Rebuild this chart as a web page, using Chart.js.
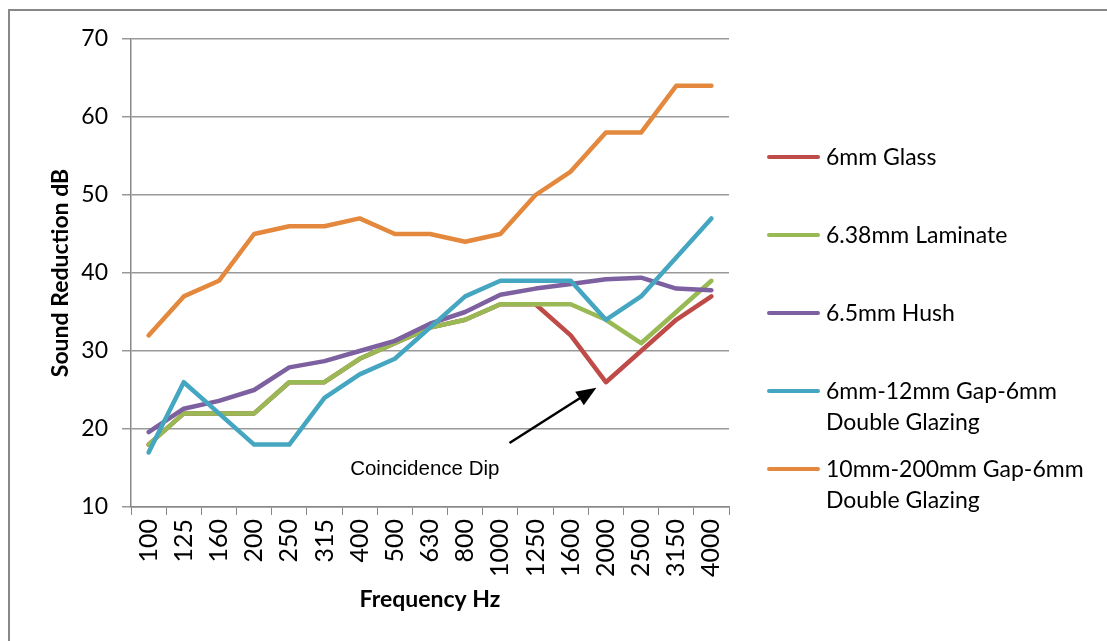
<!DOCTYPE html>
<html lang="en">
<head>
    <meta charset="UTF-8">
    <title>Sound Reduction</title>
    <style>
        body {
            margin: 0;
            background: #fff;
            font-family: Lato, sans-serif;
        }
        #frame {
            position: absolute;
            left: 8px;
            top: 9px;
            width: 1120px;
            height: 660px;
            border: 2px solid #888;
        }
        #chartBox {
            position: absolute;
            left: 0;
            top: 0;
        }
        .legend-item {
            position: absolute;
            left: 767px;
            display: flex;
            align-items: flex-start;
            font-size: 23px;
            line-height: 31px;
            color: #000;
        }
        .legend-swatch {
            width: 53px;
            height: 4px;
            border-radius: 2px;
            margin-top: 14px;
            margin-right: 6px;
            flex: none;
        }
    </style>
    <script src="https://cdn.jsdelivr.net/npm/chart.js"></script>
</head>
<body>

<div id="frame"></div>
<div id="chartBox"><canvas id="soundChart" width="1107" height="641"></canvas></div>
<div id="legend"></div>

<script>
    // frequency bands (Hz)
    const frequencies = ['100', '125', '160', '200', '250', '315', '400', '500', '630', '800',
                         '1000', '1250', '1600', '2000', '2500', '3150', '4000'];

    // sound reduction per band, dB
    const glass6 = [18, 22, 22, 22, 26, 26, 29, 31, 33, 34, 36, 36, 32, 26, 30, 34, 37];
    const laminate638 = [18, 22, 22, 22, 26, 26, 29, 31, 33, 34, 36, 36, 36, 34, 31, 35, 39];
    const hush65 = [19.6, 22.6, 23.6, 25, 27.9, 28.7, 30, 31.3, 33.5, 35, 37.2, 38, 38.6, 39.2, 39.4, 38, 37.8];
    const gap12 = [17, 26, 22, 18, 18, 24, 27, 29, 33, 37, 39, 39, 39, 34, 37, 42, 47];
    const gap200 = [32, 37, 39, 45, 46, 46, 47, 45, 45, 44, 45, 50, 53, 58, 58, 64, 64];

    const seriesNames = ['6mm Glass', '6.38mm Laminate', '6.5mm Hush',
                         '6mm-12mm Gap-6mm Double Glazing', '10mm-200mm Gap-6mm Double Glazing'];
    const seriesColors = ['#BE4B48', '#98B954', '#7D60A0', '#44A6C1', '#E3883C'];
    const seriesData = [glass6, laminate638, hush65, gap12, gap200];

    // legend wrap as in the original
    const legendLines = [
        ['6mm Glass'],
        ['6.38mm Laminate'],
        ['6.5mm Hush'],
        ['6mm-12mm Gap-6mm', 'Double Glazing'],
        ['10mm-200mm Gap-6mm', 'Double Glazing']
    ];

    // annotation: positions in data space (category index, dB)
    const dipLabel = 'Coincidence Dip';
    const dipText = { x: 5.73, y: 14.1 };
    const dipArrowFrom = { x: 10.26, y: 18.2 };
    const dipArrowTo = { x: 12.73, y: 25.3 };

    const annotationPlugin = {
        id: 'dipNote',
        afterDatasetsDraw(chart) {
            const ctx = chart.ctx;
            const xs = chart.scales.x;
            const ys = chart.scales.y;
            const x1 = xs.getPixelForValue(dipArrowFrom.x), y1 = ys.getPixelForValue(dipArrowFrom.y);
            const x2 = xs.getPixelForValue(dipArrowTo.x), y2 = ys.getPixelForValue(dipArrowTo.y);
            const ang = Math.atan2(y2 - y1, x2 - x1);
            const headLen = 20, headW = 8;
            ctx.save();
            ctx.strokeStyle = '#000';
            ctx.fillStyle = '#000';
            ctx.lineWidth = 2.5;
            ctx.beginPath();
            ctx.moveTo(x1, y1);
            ctx.lineTo(x2 - Math.cos(ang) * headLen * 0.8, y2 - Math.sin(ang) * headLen * 0.8);
            ctx.stroke();
            const bx = x2 - Math.cos(ang) * headLen, by = y2 - Math.sin(ang) * headLen;
            ctx.beginPath();
            ctx.moveTo(x2, y2);
            ctx.lineTo(bx + Math.sin(ang) * headW, by - Math.cos(ang) * headW);
            ctx.lineTo(bx - Math.sin(ang) * headW, by + Math.cos(ang) * headW);
            ctx.closePath();
            ctx.fill();
            ctx.font = '20.5px "Liberation Sans", Arial, sans-serif';
            ctx.textAlign = 'left';
            ctx.textBaseline = 'alphabetic';
            ctx.fillText(dipLabel, xs.getPixelForValue(dipText.x), ys.getPixelForValue(dipText.y));
            ctx.restore();
        }
    };

    const datasets = seriesData.map((d, i) => ({
        label: seriesNames[i],
        data: d,
        borderColor: seriesColors[i],
        backgroundColor: seriesColors[i],
        borderWidth: 4.5,
        borderCapStyle: 'round',
        borderJoinStyle: 'round',
        pointRadius: 0,
        fill: false,
        tension: 0,
        order: seriesData.length - i
    }));

    new Chart(document.getElementById('soundChart').getContext('2d'), {
        type: 'line',
        data: { labels: frequencies, datasets: datasets },
        options: {
            responsive: false,
            animation: false,
            devicePixelRatio: 1,
            layout: { padding: { left: 10, top: 39, right: 378, bottom: 0 } },
            plugins: {
                legend: { display: false },
                tooltip: { enabled: false }
            },
            scales: {
                x: {
                    offset: true,
                    afterFit(scale) { scale.height = 134; },
                    grid: { drawOnChartArea: false, offset: true, tickLength: 8, color: '#888' },
                    border: { color: '#888', width: 1.5 },
                    ticks: {
                        minRotation: 90,
                        maxRotation: 90,
                        autoSkip: false,
                        padding: 4,
                        color: '#000',
                        font: { family: 'Lato', size: 25 }
                    },
                    title: {
                        display: true,
                        text: 'Frequency Hz',
                        color: '#000',
                        font: { family: 'Lato', size: 23, weight: 'bold' },
                        padding: { top: 0, bottom: 28 }
                    }
                },
                y: {
                    min: 10,
                    max: 70,
                    afterFit(scale) { scale.width = 121; },
                    grid: { color: '#999', tickLength: 9, lineWidth: 1.5 },
                    border: { color: '#888', width: 1.5 },
                    ticks: {
                        stepSize: 10,
                        padding: 14,
                        color: '#000',
                        font: { family: 'Lato', size: 23 }
                    },
                    title: {
                        display: true,
                        text: 'Sound Reduction dB',
                        color: '#000',
                        font: { family: 'Lato', size: 23, weight: 'bold' },
                        padding: { top: 37, bottom: 0 }
                    }
                }
            }
        },
        plugins: [annotationPlugin]
    });

    // html legend
    const legendBox = document.getElementById('legend');
    seriesNames.forEach((name, i) => {
        const item = document.createElement('div');
        item.className = 'legend-item';
        item.style.top = (141 + i * 78) + 'px';
        const sw = document.createElement('div');
        sw.className = 'legend-swatch';
        sw.style.background = seriesColors[i];
        const txt = document.createElement('div');
        txt.innerHTML = legendLines[i].join('<br>');
        item.appendChild(sw);
        item.appendChild(txt);
        legendBox.appendChild(item);
    });
</script>

</body>
</html>
